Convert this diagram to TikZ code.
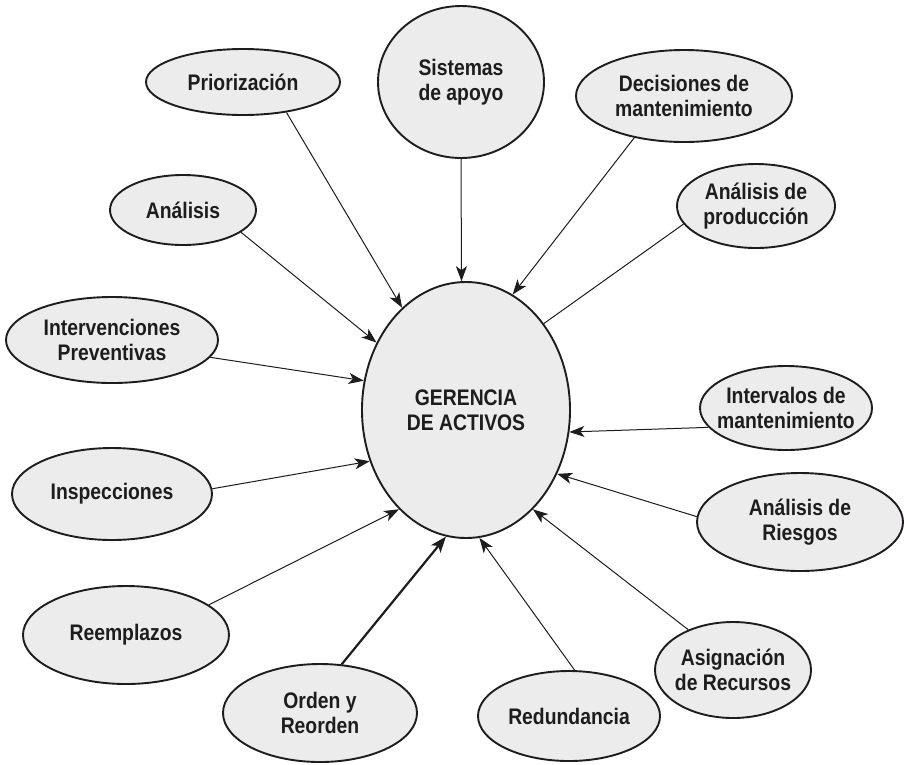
\documentclass[tikz,border=0pt]{standalone}
\usepackage{fontspec}
\setmainfont{Liberation Sans}[FakeStretch=0.86]
\usetikzlibrary{shapes.geometric,arrows.meta}
\definecolor{bubfill}{RGB}{236,236,236}
\definecolor{ink}{RGB}{30,28,30}
\tikzset{
  bub/.style={ellipse, draw=ink, line width=1.9pt, fill=bubfill, inner sep=0pt},
  txt/.style={align=center, text=ink, font=\bfseries\fontsize{22.5}{24.5}\selectfont},
  link/.style={draw=ink, line width=1pt},
  arr/.style={link, -{Stealth[length=15pt, width=11pt, inset=4pt]}},
  thickarr/.style={draw=ink, line width=2.2pt, -{Stealth[length=16pt, width=12pt, inset=4pt]}}
}
\newcommand{\bubble}[6]{%
  \node[bub, minimum width=#4pt, minimum height=#5pt,
        label={[txt]center:#6}] (#1) at (#2,#3) {};}
\begin{document}
\begin{tikzpicture}[x=1pt, y=-1pt]
\useasboundingbox (0,0) rectangle (904,764);

% central concept
\node[bub, minimum width=208pt, minimum height=256pt,
      label={[txt]center:GERENCIA\\DE ACTIVOS}] (G) at (466,410) {};

% surrounding concepts
\bubble{sis}{461}{82}{166}{152}{Sistemas\\de apoyo}
\bubble{pri}{243}{82}{194}{66}{Priorización}
\bubble{dec}{684}{96}{216}{92}{Decisiones de\\mantenimiento}
\bubble{ana}{183}{210}{146}{70}{Análisis}
\bubble{pro}{756}{206}{158}{84}{Análisis de\\producción}
\bubble{int}{112}{340}{212}{86}{Intervenciones\\Preventivas}
\bubble{ival}{786}{408}{172}{84}{Intervalos de\\mantenimiento}
\bubble{ins}{112}{494}{200}{92}{Inspecciones}
\bubble{rie}{800}{522}{206}{98}{Análisis de\\Riesgos}
\bubble{ree}{126}{635}{206}{98}{Reemplazos}
\bubble{asi}{733}{670}{156}{96}{Asignación\\de Recursos}
\bubble{ord}{320}{713}{194}{98}{Orden y\\Reorden}
\bubble{red}{569}{716}{182}{90}{Redundancia}

% connectors into the central concept
\draw[arr] (pri.-35) -- (G.122);
\draw[arr] (sis.-90) -- (G.92);
\draw[arr] (dec.-140) -- (G.68);
\draw[arr] (ana.-21) -- (G.143);
\draw[link] (pro.-166) -- (G.48);
\draw[arr] (int.-10) -- (G.164);
\draw[arr] (ival.-166) -- (G.-12);
\draw[arr] (ins.3) -- (G.-152);
\draw[arr] (rie.177) -- (G.-35);
\draw[arr] (ree.20) -- (G.-124);
\draw[arr] (asi.138) -- (G.-56);
\draw[thickarr] (ord.66) -- (G.-99);
\draw[arr] (red.83) -- (G.-84);
\end{tikzpicture}
\end{document}
